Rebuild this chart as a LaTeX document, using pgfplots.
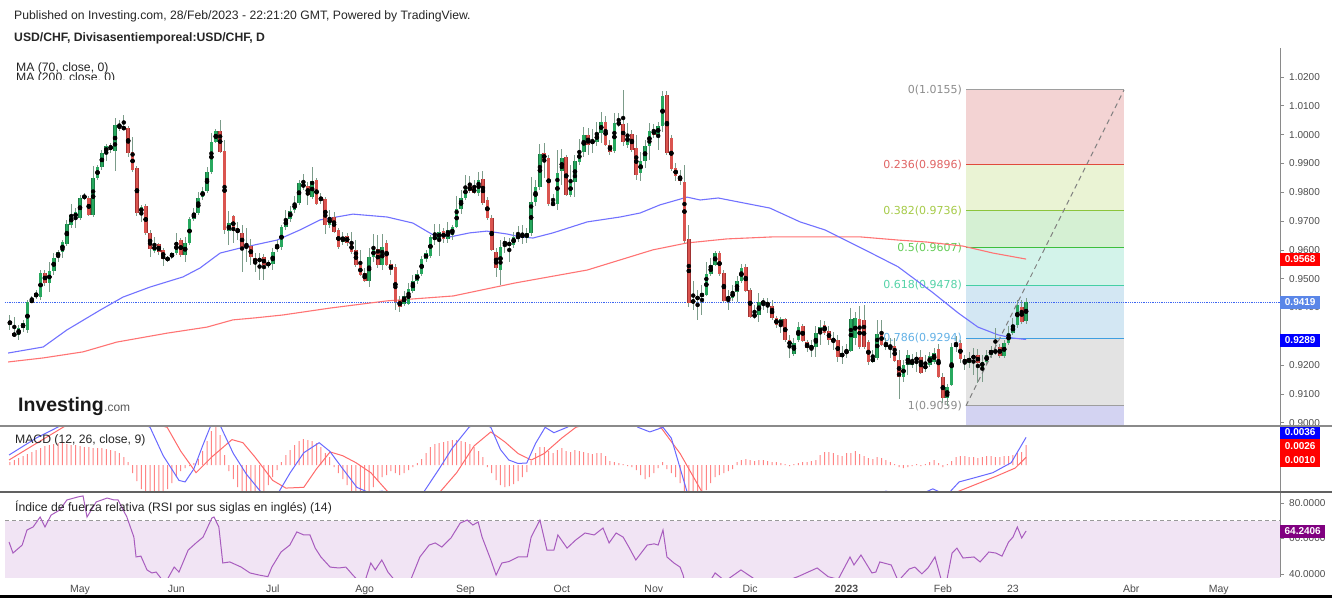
\documentclass[border=0pt]{standalone}
\usepackage{fontspec}
\setmainfont{Liberation Sans}
\newfontfamily\dejavu{DejaVu Sans}
\usepackage{pgfplots}
\usepackage{pgfplotstable}
\pgfplotsset{compat=1.18}

\definecolor{candG}{HTML}{27A85E}
\definecolor{candGd}{HTML}{1A7843}
\definecolor{candR}{HTML}{DA544F}
\definecolor{candRd}{HTML}{A03232}
\definecolor{wickc}{HTML}{7C9C8A}
\definecolor{maA}{HTML}{7272FF}
\definecolor{maB}{HTML}{FF7474}
\definecolor{axgray}{HTML}{4D4D4D}
\definecolor{sepgray}{HTML}{8A8A8A}
\definecolor{fzA}{HTML}{F3D3D3}
\definecolor{fzB}{HTML}{EAF3D4}
\definecolor{fzC}{HTML}{D5F0D3}
\definecolor{fzD}{HTML}{D3F3EA}
\definecolor{fzE}{HTML}{D3E7F3}
\definecolor{fzF}{HTML}{E3E3E3}
\definecolor{fzG}{HTML}{D3D3F2}
\definecolor{flA}{HTML}{9E9E9E}
\definecolor{flB}{HTML}{E04A3C}
\definecolor{flC}{HTML}{8CC43C}
\definecolor{flD}{HTML}{3DBE3D}
\definecolor{flE}{HTML}{45CFA5}
\definecolor{flF}{HTML}{3E9FE0}
\definecolor{ftA}{HTML}{8C8C8C}
\definecolor{ftB}{HTML}{E06464}
\definecolor{ftC}{HTML}{A6CB48}
\definecolor{ftD}{HTML}{62CB55}
\definecolor{ftE}{HTML}{55D3A8}
\definecolor{ftF}{HTML}{62B1E6}
\definecolor{priceline}{HTML}{3D66F2}
\definecolor{macdblue}{HTML}{6868FF}
\definecolor{macdred}{HTML}{FF6B6B}
\definecolor{histred}{HTML}{FF7070}
\definecolor{rsiline}{HTML}{A85CBE}
\definecolor{rsifill}{HTML}{F1E4F4}
\definecolor{boxred}{HTML}{FF0000}
\definecolor{boxblue}{HTML}{0000FF}
\definecolor{boxlblue}{HTML}{5A86E8}
\definecolor{boxpurple}{HTML}{800080}

\pgfplotstableread{
i hi lo top bot
-16 0.9374 0.9322 0.9350 0.9343
-14 0.9339 0.9287 0.9329 0.9305
-13 0.9357 0.9315 0.9346 0.9329
-12 0.9426 0.9312 0.9419 0.9322
-11 0.9440 0.9416 0.9426 0.9419
-10 0.9461 0.9429 0.9450 0.9436
-9 0.9530 0.9426 0.9520 0.9436
-7 0.9558 0.9454 0.9527 0.9485
-6 0.9589 0.9513 0.9572 0.9527
-5 0.9600 0.9558 0.9593 0.9575
-4 0.9634 0.9572 0.9627 0.9593
-3 0.9704 0.9613 0.9690 0.9620
-2 0.9759 0.9676 0.9721 0.9686
-1 0.9745 0.9676 0.9731 0.9711
0 0.9790 0.9704 0.9780 0.9711
1 0.9797 0.9773 0.9787 0.9780
3 0.9891 0.9714 0.9849 0.9721
4 0.9894 0.9842 0.9888 0.9849
5 0.9947 0.9877 0.9936 0.9888
6 0.9967 0.9908 0.9960 0.9936
8 1.0058 0.9874 1.0033 0.9943
14 0.9756 0.9697 0.9749 0.9728
17 0.9645 0.9589 0.9617 0.9596
21 0.9593 0.9568 0.9589 0.9575
22 0.9659 0.9582 0.9627 0.9589
24 0.9645 0.9558 0.9624 0.9582
25 0.9714 0.9617 0.9707 0.9624
26 0.9745 0.9700 0.9728 0.9707
27 0.9801 0.9721 0.9780 0.9728
28 0.9818 0.9773 0.9804 0.9783
29 0.9888 0.9797 0.9870 0.9804
30 1.0006 0.9863 0.9974 0.9870
31 1.0019 0.9971 1.0012 0.9974
34 0.9735 0.9617 0.9693 0.9665
41 0.9589 0.9495 0.9572 0.9558
44 0.9606 0.9530 0.9593 0.9551
45 0.9634 0.9593 0.9613 0.9606
46 0.9686 0.9600 0.9679 0.9610
47 0.9738 0.9669 0.9707 0.9679
48 0.9752 0.9697 0.9735 0.9707
49 0.9787 0.9728 0.9763 0.9738
50 0.9842 0.9756 0.9832 0.9763
53 0.9888 0.9776 0.9839 0.9783
57 0.9738 0.9676 0.9714 0.9686
60 0.9662 0.9617 0.9645 0.9627
66 0.9606 0.9471 0.9575 0.9492
67 0.9655 0.9558 0.9603 0.9575
69 0.9655 0.9530 0.9610 0.9547
74 0.9457 0.9405 0.9440 0.9412
75 0.9485 0.9409 0.9464 0.9412
76 0.9513 0.9450 0.9492 0.9457
77 0.9530 0.9482 0.9516 0.9492
78 0.9579 0.9509 0.9568 0.9516
79 0.9600 0.9558 0.9589 0.9568
80 0.9652 0.9572 0.9645 0.9579
82 0.9690 0.9579 0.9662 0.9638
84 0.9697 0.9624 0.9669 0.9638
85 0.9686 0.9634 0.9679 0.9652
86 0.9787 0.9676 0.9742 0.9679
87 0.9808 0.9724 0.9780 0.9742
88 0.9860 0.9773 0.9822 0.9780
91 0.9870 0.9787 0.9842 0.9797
96 0.9634 0.9478 0.9610 0.9530
97 0.9645 0.9589 0.9627 0.9620
99 0.9662 0.9606 0.9645 0.9617
102 0.9676 0.9624 0.9659 0.9641
103 0.9853 0.9648 0.9766 0.9659
104 0.9842 0.9752 0.9818 0.9766
105 0.9967 0.9808 0.9933 0.9818
109 0.9947 0.9738 0.9867 0.9759
110 0.9950 0.9825 0.9919 0.9874
112 0.9894 0.9783 0.9835 0.9790
113 0.9929 0.9783 0.9908 0.9835
114 0.9985 0.9894 0.9943 0.9905
115 1.0026 0.9922 0.9999 0.9940
118 1.0044 0.9960 1.0006 0.9974
119 1.0078 0.9971 1.0044 1.0006
122 1.0075 0.9936 1.0040 0.9943
125 1.0040 0.9953 1.0002 0.9964
128 0.9940 0.9839 0.9908 0.9867
129 0.9981 0.9884 0.9960 0.9908
130 1.0040 0.9912 1.0012 0.9960
132 1.0044 0.9947 1.0030 0.9999
133 1.0151 1.0009 1.0134 1.0030
140 0.9492 0.9391 0.9426 0.9416
141 0.9461 0.9357 0.9440 0.9426
142 0.9478 0.9374 0.9447 0.9440
143 0.9558 0.9440 0.9516 0.9443
144 0.9572 0.9509 0.9547 0.9516
145 0.9596 0.9544 0.9589 0.9547
148 0.9461 0.9391 0.9436 0.9429
149 0.9478 0.9423 0.9454 0.9433
150 0.9509 0.9419 0.9492 0.9454
151 0.9551 0.9485 0.9537 0.9492
155 0.9450 0.9350 0.9419 0.9374
160 0.9367 0.9311 0.9360 0.9339
163 0.9294 0.9232 0.9277 0.9239
164 0.9350 0.9280 0.9332 0.9287
167 0.9287 0.9228 0.9266 0.9259
168 0.9336 0.9228 0.9311 0.9263
169 0.9357 0.9270 0.9332 0.9311
174 0.9266 0.9204 0.9242 0.9228
175 0.9273 0.9225 0.9249 0.9242
176 0.9398 0.9246 0.9360 0.9249
177 0.9384 0.9270 0.9364 0.9294
181 0.9253 0.9207 0.9225 0.9211
182 0.9357 0.9218 0.9308 0.9225
188 0.9218 0.9141 0.9200 0.9159
189 0.9253 0.9166 0.9235 0.9200
190 0.9239 0.9190 0.9218 0.9200
191 0.9246 0.9176 0.9225 0.9218
193 0.9235 0.9176 0.9200 0.9187
194 0.9246 0.9194 0.9232 0.9200
195 0.9259 0.9204 0.9242 0.9211
198 0.9135 0.9059 0.9124 0.9086
199 0.9277 0.9128 0.9263 0.9131
200 0.9301 0.9246 0.9277 0.9263
203 0.9246 0.9190 0.9225 0.9207
204 0.9259 0.9166 0.9235 0.9221
206 0.9235 0.9141 0.9211 0.9194
207 0.9253 0.9200 0.9235 0.9211
208 0.9266 0.9225 0.9253 0.9235
211 0.9287 0.9225 0.9277 0.9232
212 0.9336 0.9270 0.9311 0.9277
213 0.9364 0.9305 0.9339 0.9311
214 0.9426 0.9329 0.9409 0.9339
216 0.9433 0.9343 0.9419 0.9353
}\greentab

\pgfplotstableread{
i hi lo top bot
-15 0.9367 0.9298 0.9311 0.9301
-8 0.9530 0.9475 0.9520 0.9485
2 0.9787 0.9717 0.9780 0.9721
7 0.9971 0.9936 0.9964 0.9947
9 1.0051 1.0012 1.0037 1.0019
10 1.0068 1.0016 1.0026 1.0019
11 1.0030 0.9922 1.0023 0.9936
12 0.9992 0.9870 0.9940 0.9877
13 0.9891 0.9717 0.9884 0.9728
15 0.9759 0.9652 0.9752 0.9659
16 0.9669 0.9575 0.9659 0.9603
18 0.9624 0.9582 0.9620 0.9593
19 0.9606 0.9544 0.9600 0.9568
20 0.9579 0.9558 0.9572 0.9565
23 0.9641 0.9575 0.9634 0.9582
32 1.0051 0.9936 1.0012 0.9940
33 0.9981 0.9655 0.9943 0.9669
35 0.9721 0.9624 0.9717 0.9665
36 0.9697 0.9634 0.9676 0.9659
37 0.9686 0.9523 0.9659 0.9610
38 0.9676 0.9558 0.9617 0.9606
39 0.9638 0.9547 0.9613 0.9575
40 0.9589 0.9523 0.9572 0.9554
42 0.9586 0.9495 0.9575 0.9547
43 0.9565 0.9537 0.9554 0.9547
51 0.9863 0.9808 0.9829 0.9818
52 0.9835 0.9756 0.9822 0.9790
54 0.9849 0.9756 0.9842 0.9759
55 0.9797 0.9759 0.9780 0.9773
56 0.9783 0.9655 0.9776 0.9686
58 0.9731 0.9659 0.9714 0.9662
59 0.9676 0.9603 0.9669 0.9610
61 0.9659 0.9613 0.9648 0.9624
62 0.9662 0.9586 0.9624 0.9593
63 0.9634 0.9541 0.9600 0.9547
64 0.9600 0.9509 0.9547 0.9513
65 0.9537 0.9488 0.9520 0.9492
68 0.9652 0.9537 0.9603 0.9547
70 0.9634 0.9544 0.9624 0.9547
71 0.9565 0.9513 0.9551 0.9530
72 0.9551 0.9391 0.9541 0.9419
73 0.9440 0.9384 0.9426 0.9402
81 0.9690 0.9617 0.9645 0.9638
83 0.9676 0.9624 0.9665 0.9638
89 0.9856 0.9797 0.9822 0.9804
90 0.9842 0.9794 0.9815 0.9797
92 0.9874 0.9756 0.9846 0.9763
93 0.9783 0.9704 0.9773 0.9711
94 0.9721 0.9596 0.9711 0.9600
95 0.9606 0.9506 0.9593 0.9537
98 0.9641 0.9558 0.9624 0.9617
100 0.9683 0.9627 0.9648 0.9641
101 0.9686 0.9620 0.9652 0.9645
106 0.9971 0.9849 0.9936 0.9912
107 0.9929 0.9752 0.9919 0.9759
108 0.9794 0.9752 0.9763 0.9756
111 0.9929 0.9787 0.9922 0.9790
116 1.0023 0.9929 0.9999 0.9964
117 1.0019 0.9936 0.9978 0.9971
120 1.0064 0.9960 1.0044 0.9964
121 0.9981 0.9929 0.9964 0.9940
123 1.0075 1.0026 1.0044 1.0033
124 1.0155 0.9960 1.0037 0.9974
126 1.0016 0.9940 1.0002 0.9947
127 0.9999 0.9842 0.9953 0.9860
131 1.0037 0.9988 1.0016 0.9999
134 1.0151 0.9929 1.0137 0.9936
135 0.9999 0.9874 0.9988 0.9881
136 0.9901 0.9839 0.9884 0.9856
137 0.9877 0.9825 0.9856 0.9839
138 0.9894 0.9624 0.9835 0.9631
139 0.9686 0.9402 0.9638 0.9416
146 0.9596 0.9509 0.9589 0.9516
147 0.9530 0.9419 0.9520 0.9423
152 0.9551 0.9454 0.9541 0.9457
153 0.9468 0.9364 0.9461 0.9367
154 0.9409 0.9360 0.9377 0.9367
156 0.9433 0.9391 0.9423 0.9412
157 0.9433 0.9381 0.9419 0.9405
158 0.9426 0.9357 0.9405 0.9364
159 0.9370 0.9329 0.9364 0.9339
161 0.9364 0.9280 0.9360 0.9287
162 0.9305 0.9225 0.9287 0.9266
165 0.9343 0.9280 0.9336 0.9284
166 0.9287 0.9246 0.9280 0.9259
170 0.9353 0.9305 0.9339 0.9311
171 0.9336 0.9270 0.9318 0.9287
172 0.9315 0.9253 0.9291 0.9284
173 0.9305 0.9211 0.9287 0.9228
178 0.9405 0.9256 0.9360 0.9263
179 0.9409 0.9256 0.9357 0.9263
180 0.9287 0.9200 0.9280 0.9211
183 0.9357 0.9266 0.9315 0.9270
184 0.9294 0.9253 0.9277 0.9263
185 0.9294 0.9225 0.9270 0.9259
186 0.9294 0.9211 0.9266 0.9214
187 0.9253 0.9082 0.9218 0.9159
192 0.9253 0.9169 0.9228 0.9173
196 0.9273 0.9155 0.9256 0.9159
197 0.9173 0.9068 0.9159 0.9086
201 0.9287 0.9207 0.9277 0.9221
202 0.9235 0.9183 0.9221 0.9207
205 0.9256 0.9138 0.9235 0.9207
209 0.9329 0.9235 0.9253 0.9242
210 0.9273 0.9225 0.9263 0.9232
215 0.9426 0.9343 0.9402 0.9350
}\redtab

\pgfplotstableread{
i v
-16.4 0.9242
-8.4 0.9263
-3.0 0.9322
4.6 0.9391
9.8 0.9436
16.0 0.9471
23.5 0.9506
27.4 0.9537
32.0 0.9589
36.5 0.9606
45.0 0.9634
50.2 0.9669
54.8 0.9704
62.3 0.9724
70.1 0.9714
76.0 0.9693
80.6 0.9652
84.5 0.9645
89.0 0.9659
92.9 0.9665
97.5 0.9655
100.5 0.9645
103.4 0.9641
108.0 0.9659
115.8 0.9697
123.3 0.9714
127.9 0.9728
132.4 0.9756
138.6 0.9783
141.6 0.9773
145.7 0.9780
157.5 0.9745
164.4 0.9697
170.1 0.9669
179.2 0.9600
186.8 0.9541
194.5 0.9454
200.5 0.9381
205.0 0.9332
209.6 0.9305
213.0 0.9294
216.0 0.9289
}\maseventy

\pgfplotstableread{
i v
-16.4 0.9211
-8.4 0.9225
0.7 0.9246
8.4 0.9280
19.9 0.9311
29.0 0.9332
34.9 0.9357
40.0 0.9364
46.3 0.9374
57.1 0.9398
70.1 0.9423
85.2 0.9440
99.3 0.9485
115.8 0.9530
130.8 0.9600
138.6 0.9624
147.7 0.9638
158.2 0.9645
178.1 0.9645
186.8 0.9634
193.4 0.9627
201.6 0.9613
208.4 0.9589
216.0 0.9568
}\matwohundred

\pgfplotstableread{
i h
-16 0.00039
-15 0.00065
-14 0.00091
-13 0.00117
-12 0.00143
-11 0.00169
-10 0.00195
-9 0.00221
-8 0.00247
-7 0.00260
-6 0.00273
-5 0.00286
-4 0.00286
-3 0.00273
-2 0.00260
-1 0.00260
0 0.00247
1 0.00234
2 0.00234
3 0.00221
4 0.00221
5 0.00221
6 0.00208
7 0.00195
8 0.00182
9 0.00156
10 0.00104
11 0.00039
12 -0.00104
13 -0.00208
14 -0.00312
15 -0.00390
16 -0.00416
17 -0.00416
18 -0.00390
19 -0.00364
20 -0.00312
21 -0.00234
22 -0.00156
23 -0.00078
24 -0.00039
25 -0.00013
26 0.00026
27 0.00078
28 0.00182
29 0.00312
30 0.00442
31 0.00520
32 0.00390
33 0.00130
34 -0.00078
35 -0.00182
36 -0.00286
37 -0.00364
38 -0.00416
39 -0.00442
40 -0.00429
41 -0.00390
42 -0.00338
43 -0.00260
44 -0.00156
45 -0.00065
46 0.00039
47 0.00130
48 0.00195
49 0.00260
50 0.00312
51 0.00338
52 0.00325
53 0.00312
54 0.00286
55 0.00234
56 0.00156
57 0.00104
58 -0.00026
59 -0.00104
60 -0.00182
61 -0.00260
62 -0.00338
63 -0.00390
64 -0.00429
65 -0.00429
66 -0.00364
67 -0.00286
68 -0.00208
69 -0.00156
70 -0.00130
71 -0.00078
72 -0.00104
73 -0.00130
74 -0.00104
75 -0.00065
76 -0.00026
77 0.00026
78 0.00078
79 0.00156
80 0.00234
81 0.00273
82 0.00286
83 0.00299
84 0.00312
85 0.00325
86 0.00325
87 0.00312
88 0.00299
89 0.00273
90 0.00234
91 0.00182
92 0.00104
93 -0.00026
94 -0.00104
95 -0.00195
96 -0.00260
97 -0.00286
98 -0.00273
99 -0.00247
100 -0.00208
101 -0.00156
102 -0.00091
103 0.00052
104 0.00156
105 0.00234
106 0.00234
107 0.00182
108 0.00156
109 0.00195
110 0.00221
111 0.00182
112 0.00169
113 0.00195
114 0.00182
115 0.00169
116 0.00156
117 0.00143
118 0.00156
119 0.00156
120 0.00117
121 0.00052
122 0.00039
123 0.00026
124 0.00013
125 -0.00013
126 -0.00026
127 -0.00065
128 -0.00130
129 -0.00182
130 -0.00156
131 -0.00104
132 -0.00039
133 0.00039
134 -0.00052
135 -0.00104
136 -0.00156
137 -0.00234
138 -0.00338
139 -0.00455
140 -0.00520
141 -0.00494
142 -0.00390
143 -0.00325
144 -0.00234
145 -0.00156
146 -0.00130
147 -0.00104
148 -0.00078
149 -0.00052
150 0.00039
151 0.00065
152 0.00078
153 0.00065
154 0.00052
155 0.00065
156 0.00065
157 0.00052
158 0.00039
159 0.00039
160 0.00026
161 0.00013
162 -0.00013
163 0.00013
164 0.00026
165 0.00039
166 0.00039
167 0.00052
168 0.00065
169 0.00130
170 0.00169
171 0.00169
172 0.00156
173 0.00130
174 0.00117
175 0.00156
176 0.00156
177 0.00182
178 0.00143
179 0.00117
180 0.00091
181 0.00078
182 0.00104
183 0.00091
184 0.00065
185 0.00039
186 0.00013
187 -0.00026
188 -0.00039
189 -0.00026
190 -0.00013
191 0.00013
192 -0.00013
193 0.00013
194 0.00039
195 0.00065
196 0.00026
197 -0.00026
198 0.00013
199 0.00052
200 0.00104
201 0.00117
202 0.00117
203 0.00104
204 0.00104
205 0.00091
206 0.00104
207 0.00117
208 0.00117
209 0.00104
210 0.00104
211 0.00117
212 0.00117
213 0.00130
214 0.00156
215 0.00169
216 0.00260
}\histtab

\pgfplotstableread{
i v
-16.2 0.0013
-10 0.0035
-4.1 0.0052
0 0.0066
5 0.0075
10 0.0068
16 0.0049
19 0.0012
22.6 -0.0020
24 -0.0022
26 -0.0005
28 0.0025
29.7 0.0049
31 0.0060
32.2 0.0049
35 0.0015
38 -0.0012
41.3 -0.0035
43 -0.0042
45.4 -0.0035
48 -0.0010
51.1 0.0016
54.6 0.0029
57 0.0018
60 -0.0005
63.2 -0.0029
66 -0.0036
69 -0.0034
72 -0.0042
75 -0.0045
78.5 -0.0035
82 -0.0005
85 0.0022
88.8 0.0049
91 0.0056
93.8 0.0049
96 0.0020
97.9 0.00065
100 0.0002
102 0.00026
104 0.0028
106.2 0.0049
108.2 0.0042
111.2 0.0049
115 0.0062
120 0.0068
125 0.0060
127.4 0.0049
130.1 0.0043
133.1 0.0049
135 0.0035
138.6 -0.0035
141 -0.0065
145 -0.0085
150 -0.0095
157 -0.0095
165 -0.0080
172 -0.0060
178 -0.0045
184 -0.0034
188 -0.0040
192 -0.0038
194.7 -0.0031
197 -0.0037
198.6 -0.0035
200.7 -0.0022
204.6 -0.0016
208.4 -0.0010
212.6 0.0003
216 0.0036
}\macdtab

\pgfplotstableread{
i v
-16.2 0.00065
-10 0.0028
-3 0.0052
3 0.0062
8 0.0065
14 0.0058
19.9 0.0049
23 0.0018
26.5 -0.0010
30 0.0010
34.7 0.0033
37.2 0.0029
40 0.0010
44 -0.0020
47 -0.0030
51.1 -0.0029
54 -0.0005
57.1 0.0017
60 0.0012
63 0.0003
66.4 -0.0010
70.3 -0.0035
75 -0.0042
79 -0.0042
82.2 -0.0035
86 -0.0010
90 0.0025
93.8 0.0043
97 0.0030
100 0.0015
103 0.00065
106 0.0015
110 0.0035
113.2 0.0049
120 0.0060
126 0.0062
130 0.0055
132.6 0.0049
137 0.0015
142 -0.0035
150 -0.0075
160 -0.0090
170 -0.0075
180 -0.0055
190 -0.0043
196 -0.0040
200.2 -0.0035
205.5 -0.0023
209 -0.0015
213.5 -0.0004
216 0.0010
}\signaltab

\pgfplotstableread{
i v
-16.2 58.0
-15.3 51.8
-13.2 56.3
-12.1 64.8
-10.7 66.5
-9.1 72.1
-8.0 66.5
-6.6 73.2
-4.6 76.1
-3.0 81.7
-0.5 83.4
0.7 84.0
1.6 72.1
3.7 80.6
6.2 82.8
7.8 81.7
8.7 81.7
10.7 72.1
12.3 60.8
12.8 49.6
13.9 50.1
15.3 42.3
16.4 40.6
17.4 41.1
18.5 37.5
19.9 36.8
21.5 43.9
22.6 41.1
24.7 53.5
26.5 57.5
28.1 60.8
30.1 71.5
30.6 72.1
31.7 66.5
32.6 46.2
34.2 46.8
36.8 43.9
38.8 40.6
40.9 39.4
42.9 38.5
43.8 43.9
45.9 52.4
47.9 56.3
49.5 63.7
51.1 62.0
52.5 62.0
53.7 54.6
55.0 49.6
57.1 43.9
59.1 43.4
60.7 43.9
62.3 39.4
63.2 37.0
64.8 34.0
66.4 46.2
67.4 42.3
68.9 47.9
70.3 41.1
71.5 37.5
73.1 30.0
74.9 33.0
77.6 49.6
79.7 56.3
81.1 57.5
82.6 55.2
84.7 60.3
86.8 68.7
88.4 70.4
89.7 67.6
90.9 69.3
91.8 60.8
93.8 47.9
95.0 39.4
96.3 46.2
97.9 47.0
100.0 49.6
102.1 49.6
103.0 60.8
105.0 70.4
106.6 53.5
108.2 53.5
109.1 62.0
111.2 54.6
113.2 59.2
115.3 63.1
117.4 62.0
119.4 65.9
120.8 57.5
122.4 63.1
124.0 60.8
125.3 55.2
126.9 47.9
129.5 56.3
131.1 57.0
132.0 56.3
133.1 64.8
134.0 49.6
135.6 46.2
137.0 43.9
137.7 39.4
139.0 25.0
141.6 27.0
145.0 40.6
147.3 36.0
150.9 42.3
155.3 35.0
161.0 36.0
163.9 38.5
168.3 43.4
170.8 38.5
173.1 37.0
175.8 49.6
176.7 45.1
178.3 50.7
180.8 40.6
181.7 41.1
182.6 46.8
185.2 45.1
186.8 36.0
189.3 42.8
190.6 43.9
192.2 40.1
193.6 43.4
195.2 49.6
196.6 37.0
197.7 34.0
199.1 51.8
200.2 54.6
201.6 49.0
204.1 49.6
205.5 46.8
207.5 52.4
209.1 51.8
210.5 50.1
212 58.0
213 60.8
214 66.5
215 60.3
216 64.24
}\rsitab

\pgfplotsset{
  panel/.style={
    scale only axis, width=1275pt,
    xmin=-17.123, xmax=273.973,
    axis y line*=right,
    y axis line style={draw=sepgray, line width=0.8pt},
    ytick style={draw=sepgray, line width=0.7pt},
    major tick length=4pt,
    tick align=outside,
    scaled y ticks=false,
    /pgf/number format/assume math mode=true,
    yticklabel style={font=\fontsize{10}{12}\selectfont, text=axgray, anchor=west, inner sep=0pt, xshift=5pt,
      /pgf/number format/fixed, /pgf/number format/fixed zerofill, /pgf/number format/precision=4},
  },
  wick/.style={only marks, mark=none, forget plot, error bars/.cd, y dir=both, y explicit, error mark=none,
    error bar style={draw=wickc, line width=1pt}},
  body/.style 2 args={only marks, mark=none, forget plot, error bars/.cd, y dir=both, y explicit, error mark=none,
    error bar style={draw=#1, line width=#2}},
}

\begin{document}
\begin{tikzpicture}
\useasboundingbox (0pt,0pt) rectangle (1332pt,598pt);
\fill[white] (0pt,0pt) rectangle (1332pt,598pt);

% ---------------- price panel ----------------
\begin{axis}[panel, at={(5pt,173pt)}, anchor=south west, height=377pt,
  hide x axis,
  ymin=0.899225, ymax=1.030044,
  ytick={0.90,0.91,0.92,0.94,0.95,0.96,0.97,0.98,0.99,1.00,1.01,1.02}]
  % Fibonacci zones
  \fill[fzA] (axis cs:202.28,1.0155) rectangle (axis cs:238.36,0.9896);
  \fill[fzB] (axis cs:202.28,0.9896) rectangle (axis cs:238.36,0.9736);
  \fill[fzC] (axis cs:202.28,0.9736) rectangle (axis cs:238.36,0.9607);
  \fill[fzD] (axis cs:202.28,0.9607) rectangle (axis cs:238.36,0.9478);
  \fill[fzE] (axis cs:202.28,0.9478) rectangle (axis cs:238.36,0.9294);
  \fill[fzF] (axis cs:202.28,0.9294) rectangle (axis cs:238.36,0.9059);
  \fill[fzG] (axis cs:202.28,0.9059) rectangle (axis cs:238.36,0.8900);
  \draw[flA, line width=1pt] (axis cs:202.28,1.0155) -- (axis cs:238.36,1.0155);
  \draw[flB, line width=1pt] (axis cs:202.28,0.9896) -- (axis cs:238.36,0.9896);
  \draw[flC, line width=1pt] (axis cs:202.28,0.9736) -- (axis cs:238.36,0.9736);
  \draw[flD, line width=1pt] (axis cs:202.28,0.9607) -- (axis cs:238.36,0.9607);
  \draw[flE, line width=1pt] (axis cs:202.28,0.9478) -- (axis cs:238.36,0.9478);
  \draw[flF, line width=1pt] (axis cs:202.28,0.9294) -- (axis cs:238.36,0.9294);
  \draw[flA, line width=1pt] (axis cs:202.28,0.9059) -- (axis cs:238.36,0.9059);
  \begin{scope}[every node/.style={anchor=east, inner sep=0pt, font=\dejavu\fontsize{11}{13}\selectfont}]
  \node[text=ftA] at (axis cs:201.4,1.0155) {0(1.0155)};
  \node[text=ftB] at (axis cs:201.4,0.9896) {0.236(0.9896)};
  \node[text=ftC] at (axis cs:201.4,0.9736) {0.382(0.9736)};
  \node[text=ftD] at (axis cs:201.4,0.9607) {0.5(0.9607)};
  \node[text=ftE] at (axis cs:201.4,0.9478) {0.618(0.9478)};
  \node[text=ftF] at (axis cs:201.4,0.9294) {0.786(0.9294)};
  \node[text=ftA] at (axis cs:201.4,0.9059) {1(0.9059)};
  \end{scope}
  % last price line
  \addplot[priceline, densely dotted, line width=0.8pt, forget plot] coordinates {(-17.123,0.9419) (273.973,0.9419)};
  % moving averages
  \addplot[maB, line width=1.1pt, forget plot] table[x=i, y=v] {\matwohundred};
  \addplot[maA, line width=1.1pt, forget plot] table[x=i, y=v] {\maseventy};
  % candles: wicks
  \addplot[wick] table[x=i, y expr={(\thisrow{hi}+\thisrow{lo})/2}, y error expr={(\thisrow{hi}-\thisrow{lo})/2}] {\greentab};
  \addplot[wick] table[x=i, y expr={(\thisrow{hi}+\thisrow{lo})/2}, y error expr={(\thisrow{hi}-\thisrow{lo})/2}] {\redtab};
  % candles: bodies
  \addplot[body={candGd}{3.6pt}] table[x=i, y expr={(\thisrow{top}+\thisrow{bot})/2}, y error expr={(\thisrow{top}-\thisrow{bot})/2+0.0001}] {\greentab};
  \addplot[body={candG}{2.6pt}] table[x=i, y expr={(\thisrow{top}+\thisrow{bot})/2}, y error expr={max((\thisrow{top}-\thisrow{bot})/2-0.00008,0)}] {\greentab};
  \addplot[body={candRd}{3.6pt}] table[x=i, y expr={(\thisrow{top}+\thisrow{bot})/2}, y error expr={(\thisrow{top}-\thisrow{bot})/2+0.0001}] {\redtab};
  \addplot[body={candR}{2.6pt}] table[x=i, y expr={(\thisrow{top}+\thisrow{bot})/2}, y error expr={max((\thisrow{top}-\thisrow{bot})/2-0.00008,0)}] {\redtab};
  % Fibonacci trend line
  \draw[gray, line width=1pt, dash pattern=on 5pt off 4pt] (axis cs:202.28,0.9059) -- (axis cs:238.36,1.0155);
\end{axis}

% ---------------- MACD panel ----------------
\begin{axis}[panel, at={(5pt,106pt)}, anchor=south west, height=66pt,
  hide x axis,
  ymin=-0.00351, ymax=0.00507, ytick=\empty]
  \addplot[ybar, bar width=1pt, fill=histred, draw=none, fill opacity=0.85, forget plot] table[x=i, y=h] {\histtab};
  \addplot[macdred, line width=1pt, forget plot] table[x=i, y=v] {\signaltab};
  \addplot[macdblue, line width=1pt, forget plot] table[x=i, y=v] {\macdtab};
\end{axis}

% ---------------- RSI panel ----------------
\begin{axis}[panel, at={(5pt,21pt)}, anchor=south west, height=85pt,
  ymin=38.31, ymax=86.2, ytick={40,60,80},
  axis x line*=bottom, x axis line style={draw=gray!45, line width=0.6pt},
  xtick={0,22,44,65,88,110,131,153,175,197,213,240,260},
  xticklabels={May,Jun,Jul,Ago,Sep,Oct,Nov,Dic,\textbf{2023},Feb,23,Abr,May},
  xtick style={draw=none},
  xticklabel style={font=\fontsize{10.5}{12}\selectfont, text=axgray, anchor=north, inner sep=0pt, yshift=-4pt}]
  \fill[rsifill] (axis cs:-17.123,30) rectangle (axis cs:273.973,70);
  \draw[gray!80, line width=0.9pt, dash pattern=on 4pt off 3pt] (axis cs:-17.123,70) -- (axis cs:273.973,70);
  \addplot[rsiline, line width=1pt, forget plot] table[x=i, y=v] {\rsitab};
\end{axis}

% separators
\draw[sepgray, line width=2pt] (0pt,172pt) -- (1332pt,172pt);
\draw[sepgray!70!black, line width=1.1pt] (0pt,106pt) -- (1332pt,106pt);
\fill[black] (0pt,0pt) rectangle (1332pt,3.5pt);

% value boxes on the right axis
\begin{scope}[every node/.style={anchor=west, inner sep=0pt, text=white, minimum width=40pt, minimum height=13pt, font=\bfseries\fontsize{10}{12}\selectfont}]
\node[fill=boxred] at (1280pt,339pt) {0.9568};
\node[fill=boxlblue] at (1280pt,296pt) {0.9419};
\node[fill=boxblue] at (1280pt,258pt) {0.9289};
\node[fill=boxblue, minimum height=12pt] at (1280pt,165.5pt) {0.0036};
\node[fill=boxred, minimum height=14pt] at (1280pt,152pt) {0.0026};
\node[fill=boxred, minimum height=14pt] at (1280pt,138pt) {0.0010};
\node[fill=boxpurple, minimum width=45pt] at (1280pt,67pt) {64.2406};
\end{scope}

% titles
\node[anchor=base west, inner sep=0pt, font=\fontsize{12.2}{14}\selectfont, text=black!85] at (14pt,578.5pt) {Published on Investing.com, 28/Feb/2023 - 22:21:20 GMT, Powered by TradingView.};
\node[anchor=base west, inner sep=0pt, font=\bfseries\fontsize{12.2}{14}\selectfont, text=black!85] at (14pt,556.5pt) {USD/CHF, Divisasentiemporeal:USD/CHF, D};
\node[anchor=base west, inner sep=0pt, font=\fontsize{12.2}{14}\selectfont, text=black!85] at (16pt,526.5pt) {MA (70, close, 0)};
\begin{scope}
\clip (0pt,518pt) rectangle (400pt,530pt);
\node[anchor=base west, inner sep=0pt, font=\fontsize{12.2}{14}\selectfont, text=black!85] at (16pt,516.5pt) {MA (200, close, 0)};
\end{scope}
\node[anchor=base west, inner sep=0pt, font=\bfseries\fontsize{19.5}{22}\selectfont, text=black!90] (inv) at (18pt,187pt) {Investing};
\node[anchor=base west, inner sep=0pt, font=\fontsize{12}{14}\selectfont, text=black!65] at (inv.base east) {.com};
\node[anchor=base west, inner sep=0pt, font=\fontsize{12.2}{14}\selectfont, text=black!85] at (15pt,155pt) {MACD (12, 26, close, 9)};
\node[anchor=base west, inner sep=0pt, font=\fontsize{12.2}{14}\selectfont, text=black!85] at (15pt,87pt) {Índice de fuerza relativa (RSI por sus siglas en inglés) (14)};
\end{tikzpicture}
\end{document}
